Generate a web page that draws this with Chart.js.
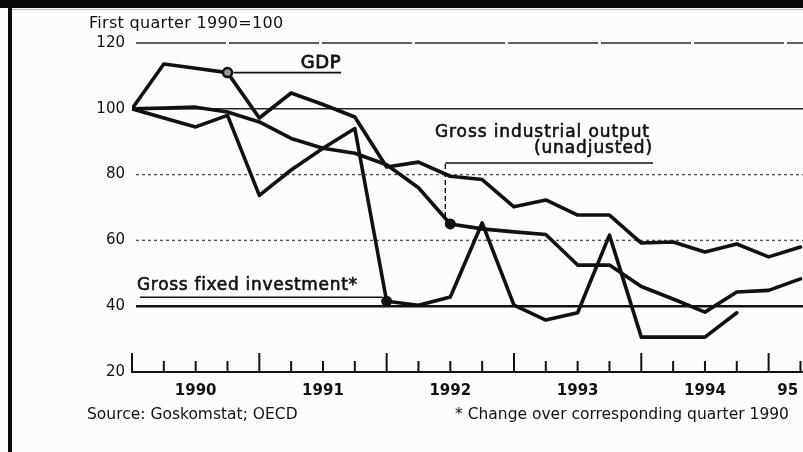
<!DOCTYPE html>
<html>
<head>
<meta charset="utf-8">
<script src="https://cdn.jsdelivr.net/npm/chart.js@4.4.0/dist/chart.umd.min.js"></script>
<style>
  html, body { margin: 0; padding: 0; background: #fcfcfc; }
  #wrap { width: 803px; height: 452px; position: relative; }
</style>
</head>
<body>
<div id="wrap"><canvas id="chart"></canvas></div>
<script>
'use strict';

// quarter index: 0 = 1990 Q1 ... 21 = 1995 Q2
const quarters   = [0, 1, 2, 3, 4, 5, 6, 7, 8, 9, 10, 11, 12, 13, 14, 15, 16, 17, 18, 19, 20, 21];
const yearLabels = ['1990', '1991', '1992', '1993', '1994', '95'];
const yTicks     = [20, 40, 60, 80, 100, 120];

// first quarter 1990 = 100
const gdp        = [100, 113.6, 112.3, 111, 97.2, 104.8, 101.3, 97.5, 82.3, 83.8, 79.5, 78.5,
                    70.2, 72.3, 67.7, 67.7, 59.2, 59.5, 56.5, 58.9, 55, 58];
const industrial = [100, 100.2, 100.5, 99, 96, 91, 88, 86.5, 83, 76, 65, 63.5,
                    62.6, 61.8, 52.5, 52.5, 46, 42.2, 38.2, 44.3, 44.8, 48.3];
const investment = [100, 97.2, 94.5, 98, 73.7, 81.4, 88, 94, 41.5, 40.3, 42.8, 65.3,
                    40.3, 35.8, 38, 61.6, 30.6, 30.6, 30.6, 38, null, null];

// where the label pointers sit on each line
const GDP_MARK = 3, IND_MARK = 10, INV_MARK = 8;

const INK  = '#111';
const FONT = '"DejaVu Sans", "Liberation Sans", sans-serif';

// heavy = a thin outline on top, the scan makes the labels look medium weight
function text(ctx, str, x, y, size, align, spacing, heavy) {
  ctx.font = `${size}px ${FONT}`;
  ctx.textAlign = align || 'left';
  ctx.textBaseline = 'alphabetic';
  if ('letterSpacing' in ctx) ctx.letterSpacing = (spacing || 0) + 'px';
  ctx.fillText(str, x, y);
  if (heavy) {
    ctx.lineWidth = heavy;
    ctx.strokeStyle = INK;
    ctx.strokeText(str, x, y);
  }
  if ('letterSpacing' in ctx) ctx.letterSpacing = '0px';
}

function line(ctx, x1, y1, x2, y2, w, dash) {
  ctx.save();
  ctx.strokeStyle = INK;
  ctx.lineWidth = w;
  ctx.setLineDash(dash || []);
  ctx.beginPath();
  ctx.moveTo(x1, y1);
  ctx.lineTo(x2, y2);
  ctx.stroke();
  ctx.restore();
}

// frame of the scanned page
const framePlugin = {
  id: 'frame',
  beforeDraw(chart) {
    const { ctx, width, height } = chart;
    ctx.save();
    ctx.fillStyle = '#fcfcfc';
    ctx.fillRect(0, 0, width, height);
    ctx.fillStyle = '#0a0a0a';
    ctx.fillRect(0, 0, width, 8);
    ctx.fillRect(8, 0, 4, height);
    ctx.fillStyle = '#bbb';
    ctx.fillRect(12, 9, width - 12, 1);
    ctx.restore();
  },
};

// horizontal rules, mixed solid / dotted like the original
const gridPlugin = {
  id: 'rules',
  beforeDatasetsDraw(chart) {
    const { ctx, chartArea: a, scales: { y } } = chart;
    yTicks.forEach(v => {
      if (v === 20) return;
      const py = y.getPixelForValue(v);
      const style = {
        120: [1.5, '#2a2a2a', [90, 3]],
        100: [1.4, '#222', []],
        80:  [1.4, '#555', [3, 3]],
        60:  [1.4, '#555', [3, 3]],
        40:  [2.5, '#111', []],
      }[v];
      ctx.save();
      ctx.strokeStyle = style[1];
      ctx.lineWidth = style[0];
      ctx.setLineDash(style[2]);
      ctx.beginPath();
      ctx.moveTo(a.left + 4, py);
      ctx.lineTo(a.right, py);
      ctx.stroke();
      ctx.restore();
    });
  },
};

const notesPlugin = {
  id: 'notes',
  afterDraw(chart) {
    const { ctx, chartArea: a, scales: { x } } = chart;
    ctx.save();
    ctx.fillStyle = INK;

    // upward tick marks on the time axis
    quarters.forEach(q => {
      const px = x.getPixelForValue(q);
      const len = q % 4 === 0 ? 19 : 11;
      line(ctx, px, a.bottom, px, a.bottom - len, 2);
    });

    text(ctx, 'First quarter 1990=100', 89, 28, 16, 'left', 0.3);

    // GDP pointer
    const g = chart.getDatasetMeta(0).data[GDP_MARK];
    line(ctx, g.x + 6, g.y, 341, g.y, 1.6);
    text(ctx, 'GDP', 341, g.y - 5, 18, 'right', 0.5, 0.8);

    // industrial output pointer
    const p = chart.getDatasetMeta(1).data[IND_MARK];
    line(ctx, p.x - 5, p.y - 7, p.x - 5, 164, 1.4, [5, 3]);
    line(ctx, p.x - 5, 163, 653, 163, 1.6);
    text(ctx, 'Gross industrial output', 435, 137, 17, 'left', 0.9, 0.6);
    text(ctx, '(unadjusted)', 653, 153, 17, 'right', 0.9, 0.6);

    // fixed investment pointer
    const v = chart.getDatasetMeta(2).data[INV_MARK];
    line(ctx, 140, v.y - 4, v.x - 4, v.y - 4, 1.6);
    text(ctx, 'Gross fixed investment*', 137, 290, 17, 'left', 0.7, 0.6);

    text(ctx, 'Source: Goskomstat; OECD', 87, 419, 15.5, 'left');
    text(ctx, '* Change over corresponding quarter 1990', 455, 419, 15.5, 'left');
    ctx.restore();
  },
};

function series(data, mark, ring) {
  return {
    data,
    borderColor: INK,
    borderWidth: 3.6,
    borderJoinStyle: 'round',
    borderCapStyle: 'round',
    tension: 0,
    spanGaps: false,
    pointRadius: c => (c.dataIndex === mark ? (ring ? 4.5 : 5.5) : 0),
    pointBorderWidth: ring ? 2.5 : 0,
    pointBorderColor: INK,
    pointBackgroundColor: ring ? '#999' : INK,
    pointHoverRadius: 0,
  };
}

new Chart(document.getElementById('chart'), {
  type: 'line',
  data: {
    labels: quarters,
    datasets: [
      series(gdp, GDP_MARK, true),
      series(industrial, IND_MARK, false),
      series(investment, INV_MARK, false),
    ],
  },
  options: {
    responsive: true,
    maintainAspectRatio: false,
    animation: false,
    events: [],
    layout: { padding: { top: 43, right: 0, left: 0, bottom: 0 } },
    plugins: { legend: { display: false }, tooltip: { enabled: false }, title: { display: false } },
    scales: {
      x: {
        type: 'linear',
        min: 0,
        max: 21.08,
        afterFit: s => { s.height = 80; s.paddingLeft = 0; s.paddingRight = 0; },
        afterBuildTicks: s => {
          s.ticks = yearLabels.map((l, i) => ({ value: Math.min(4 * i + 2, 20.6) }));
        },
        grid: { display: false, drawTicks: false },
        border: { display: true, color: INK, width: 2 },
        ticks: {
          color: INK,
          font: { family: FONT, size: 15, weight: 'bold' },
          padding: 10,
          maxRotation: 0,
          autoSkip: false,
          callback: (val, i) => yearLabels[i],
        },
      },
      y: {
        min: 20,
        max: 120,
        afterFit: s => { s.width = 132; s.paddingTop = 0; s.paddingBottom = 0; },
        afterBuildTicks: s => { s.ticks = yTicks.map(v => ({ value: v })); },
        grid: { display: false, drawTicks: false },
        border: { display: false },
        ticks: {
          color: INK,
          font: { family: FONT, size: 15 },
          padding: 7,
        },
      },
    },
  },
  plugins: [framePlugin, gridPlugin, notesPlugin],
});
</script>
</body>
</html>
